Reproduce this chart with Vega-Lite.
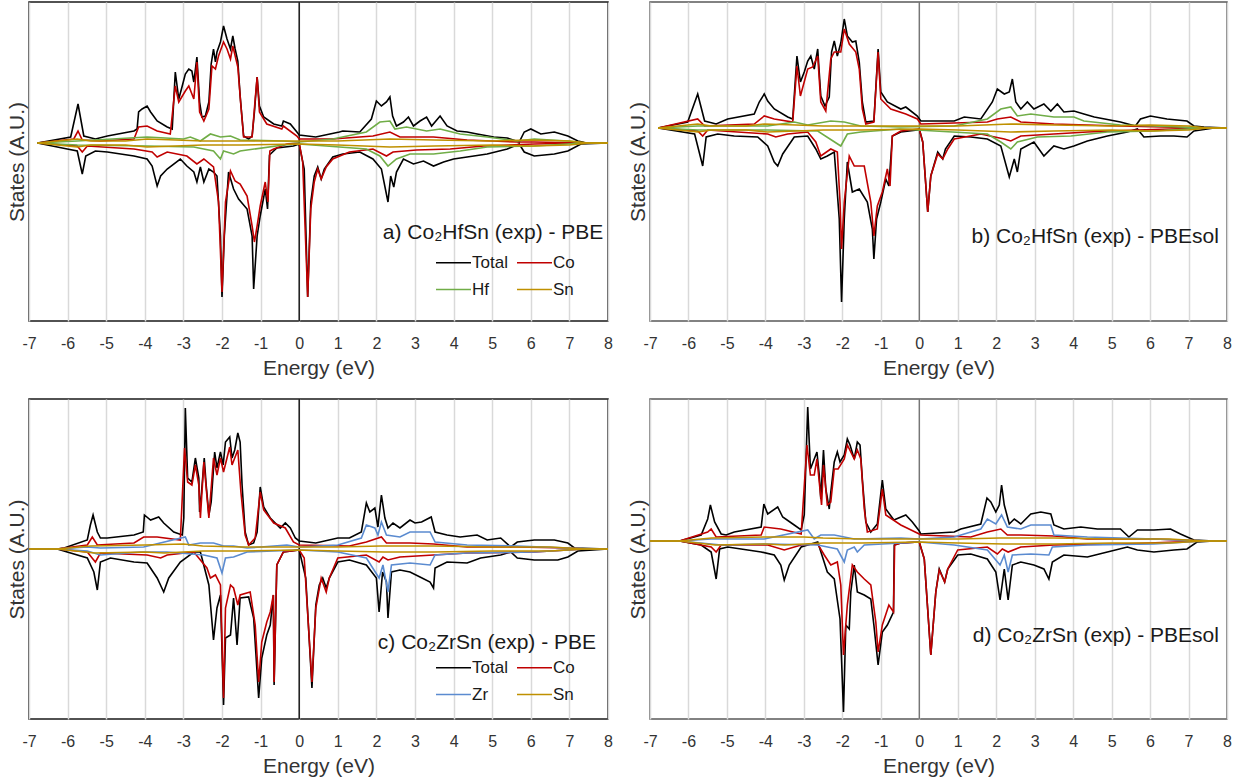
{
"$schema": "https://vega.github.io/schema/vega-lite/v6.json",
"background": "white",
"padding": {"left": 5, "top": 0, "right": 0, "bottom": 0},
"config": {
 "font": "Liberation Sans",
 "view": {"stroke": "#1a1a1a", "strokeWidth": 1.5},
 "axis": {"labelFont": "Liberation Sans", "titleFont": "Liberation Sans", "labelColor": "#333333", "titleColor": "#333333", "titleFontWeight": "normal", "domain": false, "ticks": false, "tickSize": 0},
 "axisX": {"grid": true, "gridColor": "#d9d9d9", "gridWidth": 1.5, "values": [-7,-6,-5,-4,-3,-2,-1,0,1,2,3,4,5,6,7,8], "labelFontSize": 16, "labelPadding": 14, "titleFontSize": 21, "titlePadding": 6, "labelFlush": false, "labelOverlap": false, "labelExpr": "'' + datum.value"},
 "axisY": {"grid": false, "labels": false, "titleFontSize": 21, "titlePadding": 2},
 "legend": {"orient": "none", "direction": "horizontal", "columns": 2, "title": null, "symbolType": "stroke", "symbolSize": 1225, "symbolStrokeWidth": 1.5, "labelFontSize": 17, "labelColor": "#1a1a1a", "labelFont": "Liberation Sans", "labelOffset": 0, "columnPadding": 6, "rowPadding": -11, "padding": 0}
},
"datasets": {
"a": [
{"s":"Total","d":"u","e":-6.78,"v":0},{"s":"Total","d":"u","e":-5.92,"v":6},{"s":"Total","d":"u","e":-5.73,"v":39},{"s":"Total","d":"u","e":-5.58,"v":7},{"s":"Total","d":"u","e":-5.28,"v":4},{"s":"Total","d":"u","e":-4.97,"v":7},{"s":"Total","d":"u","e":-4.28,"v":12},{"s":"Total","d":"u","e":-4.2,"v":14},{"s":"Total","d":"u","e":-4.16,"v":31},{"s":"Total","d":"u","e":-4.07,"v":34},{"s":"Total","d":"u","e":-3.94,"v":37},{"s":"Total","d":"u","e":-3.85,"v":31},{"s":"Total","d":"u","e":-3.68,"v":22},{"s":"Total","d":"u","e":-3.42,"v":16},{"s":"Total","d":"u","e":-3.29,"v":14},{"s":"Total","d":"u","e":-3.21,"v":71},{"s":"Total","d":"u","e":-3.12,"v":44},{"s":"Total","d":"u","e":-3.03,"v":57},{"s":"Total","d":"u","e":-2.95,"v":69},{"s":"Total","d":"u","e":-2.86,"v":74},{"s":"Total","d":"u","e":-2.78,"v":72},{"s":"Total","d":"u","e":-2.73,"v":61},{"s":"Total","d":"u","e":-2.65,"v":86},{"s":"Total","d":"u","e":-2.58,"v":41},{"s":"Total","d":"u","e":-2.52,"v":26},{"s":"Total","d":"u","e":-2.43,"v":27},{"s":"Total","d":"u","e":-2.34,"v":41},{"s":"Total","d":"u","e":-2.28,"v":79},{"s":"Total","d":"u","e":-2.22,"v":94},{"s":"Total","d":"u","e":-2.17,"v":81},{"s":"Total","d":"u","e":-2.13,"v":91},{"s":"Total","d":"u","e":-2.04,"v":101},{"s":"Total","d":"u","e":-1.96,"v":117},{"s":"Total","d":"u","e":-1.87,"v":104},{"s":"Total","d":"u","e":-1.78,"v":94},{"s":"Total","d":"u","e":-1.72,"v":107},{"s":"Total","d":"u","e":-1.66,"v":94},{"s":"Total","d":"u","e":-1.59,"v":82},{"s":"Total","d":"u","e":-1.53,"v":47},{"s":"Total","d":"u","e":-1.44,"v":7},{"s":"Total","d":"u","e":-1.31,"v":4},{"s":"Total","d":"u","e":-1.22,"v":7},{"s":"Total","d":"u","e":-1.16,"v":31},{"s":"Total","d":"u","e":-1.09,"v":66},{"s":"Total","d":"u","e":-1.03,"v":37},{"s":"Total","d":"u","e":-0.92,"v":26},{"s":"Total","d":"u","e":-0.66,"v":19},{"s":"Total","d":"u","e":-0.45,"v":17},{"s":"Total","d":"u","e":-0.41,"v":22},{"s":"Total","d":"u","e":-0.23,"v":19},{"s":"Total","d":"u","e":-0.06,"v":11},{"s":"Total","d":"u","e":0.0,"v":8},{"s":"Total","d":"u","e":0.43,"v":6},{"s":"Total","d":"u","e":1.04,"v":11},{"s":"Total","d":"u","e":1.13,"v":12},{"s":"Total","d":"u","e":1.57,"v":11},{"s":"Total","d":"u","e":1.87,"v":24},{"s":"Total","d":"u","e":2.0,"v":42},{"s":"Total","d":"u","e":2.13,"v":37},{"s":"Total","d":"u","e":2.26,"v":41},{"s":"Total","d":"u","e":2.35,"v":46},{"s":"Total","d":"u","e":2.42,"v":27},{"s":"Total","d":"u","e":2.52,"v":17},{"s":"Total","d":"u","e":2.7,"v":21},{"s":"Total","d":"u","e":2.83,"v":26},{"s":"Total","d":"u","e":2.96,"v":17},{"s":"Total","d":"u","e":3.13,"v":22},{"s":"Total","d":"u","e":3.3,"v":26},{"s":"Total","d":"u","e":3.43,"v":17},{"s":"Total","d":"u","e":3.65,"v":27},{"s":"Total","d":"u","e":3.83,"v":17},{"s":"Total","d":"u","e":4.09,"v":12},{"s":"Total","d":"u","e":4.35,"v":11},{"s":"Total","d":"u","e":4.61,"v":9},{"s":"Total","d":"u","e":5.04,"v":6},{"s":"Total","d":"u","e":5.39,"v":5},{"s":"Total","d":"u","e":5.7,"v":1},{"s":"Total","d":"u","e":5.83,"v":11},{"s":"Total","d":"u","e":6.0,"v":14},{"s":"Total","d":"u","e":6.26,"v":9},{"s":"Total","d":"u","e":6.61,"v":11},{"s":"Total","d":"u","e":6.96,"v":7},{"s":"Total","d":"u","e":7.22,"v":2},{"s":"Total","d":"u","e":7.39,"v":0.5},{"s":"Total","d":"u","e":8.0,"v":0},
{"s":"Total","d":"d","e":-6.78,"v":0},{"s":"Total","d":"d","e":-6.01,"v":-6},{"s":"Total","d":"d","e":-5.75,"v":-8},{"s":"Total","d":"d","e":-5.62,"v":-31},{"s":"Total","d":"d","e":-5.53,"v":-13},{"s":"Total","d":"d","e":-5.28,"v":-8},{"s":"Total","d":"d","e":-4.97,"v":-9},{"s":"Total","d":"d","e":-4.28,"v":-13},{"s":"Total","d":"d","e":-3.94,"v":-16},{"s":"Total","d":"d","e":-3.81,"v":-23},{"s":"Total","d":"d","e":-3.68,"v":-43},{"s":"Total","d":"d","e":-3.59,"v":-33},{"s":"Total","d":"d","e":-3.42,"v":-26},{"s":"Total","d":"d","e":-3.08,"v":-16},{"s":"Total","d":"d","e":-2.91,"v":-23},{"s":"Total","d":"d","e":-2.73,"v":-29},{"s":"Total","d":"d","e":-2.65,"v":-39},{"s":"Total","d":"d","e":-2.56,"v":-24},{"s":"Total","d":"d","e":-2.47,"v":-39},{"s":"Total","d":"d","e":-2.34,"v":-26},{"s":"Total","d":"d","e":-2.22,"v":-29},{"s":"Total","d":"d","e":-2.13,"v":-33},{"s":"Total","d":"d","e":-2.04,"v":-93},{"s":"Total","d":"d","e":-2.0,"v":-154},{"s":"Total","d":"d","e":-1.94,"v":-93},{"s":"Total","d":"d","e":-1.83,"v":-29},{"s":"Total","d":"d","e":-1.7,"v":-46},{"s":"Total","d":"d","e":-1.57,"v":-56},{"s":"Total","d":"d","e":-1.35,"v":-66},{"s":"Total","d":"d","e":-1.22,"v":-93},{"s":"Total","d":"d","e":-1.18,"v":-146},{"s":"Total","d":"d","e":-1.09,"v":-93},{"s":"Total","d":"d","e":-1.01,"v":-73},{"s":"Total","d":"d","e":-0.88,"v":-46},{"s":"Total","d":"d","e":-0.82,"v":-66},{"s":"Total","d":"d","e":-0.77,"v":-12},{"s":"Total","d":"d","e":-0.58,"v":-5},{"s":"Total","d":"d","e":-0.15,"v":-3},{"s":"Total","d":"d","e":0.0,"v":-1},{"s":"Total","d":"d","e":0.13,"v":-26},{"s":"Total","d":"d","e":0.22,"v":-154},{"s":"Total","d":"d","e":0.3,"v":-59},{"s":"Total","d":"d","e":0.39,"v":-33},{"s":"Total","d":"d","e":0.48,"v":-24},{"s":"Total","d":"d","e":0.57,"v":-36},{"s":"Total","d":"d","e":0.65,"v":-26},{"s":"Total","d":"d","e":0.87,"v":-14},{"s":"Total","d":"d","e":1.13,"v":-11},{"s":"Total","d":"d","e":1.57,"v":-9},{"s":"Total","d":"d","e":1.91,"v":-16},{"s":"Total","d":"d","e":2.13,"v":-26},{"s":"Total","d":"d","e":2.3,"v":-59},{"s":"Total","d":"d","e":2.37,"v":-33},{"s":"Total","d":"d","e":2.45,"v":-44},{"s":"Total","d":"d","e":2.52,"v":-29},{"s":"Total","d":"d","e":2.7,"v":-16},{"s":"Total","d":"d","e":2.96,"v":-21},{"s":"Total","d":"d","e":3.22,"v":-18},{"s":"Total","d":"d","e":3.48,"v":-23},{"s":"Total","d":"d","e":3.74,"v":-19},{"s":"Total","d":"d","e":4.0,"v":-16},{"s":"Total","d":"d","e":4.35,"v":-14},{"s":"Total","d":"d","e":4.87,"v":-11},{"s":"Total","d":"d","e":5.39,"v":-6},{"s":"Total","d":"d","e":5.7,"v":-1},{"s":"Total","d":"d","e":5.83,"v":-9},{"s":"Total","d":"d","e":6.09,"v":-13},{"s":"Total","d":"d","e":6.61,"v":-11},{"s":"Total","d":"d","e":6.96,"v":-8},{"s":"Total","d":"d","e":7.3,"v":-1},{"s":"Total","d":"d","e":8.0,"v":0},
{"s":"Co","d":"u","e":-6.78,"v":0},{"s":"Co","d":"u","e":-5.84,"v":4},{"s":"Co","d":"u","e":-5.73,"v":12},{"s":"Co","d":"u","e":-5.62,"v":3},{"s":"Co","d":"u","e":-5.15,"v":2},{"s":"Co","d":"u","e":-4.28,"v":4},{"s":"Co","d":"u","e":-4.16,"v":16},{"s":"Co","d":"u","e":-3.94,"v":17},{"s":"Co","d":"u","e":-3.68,"v":12},{"s":"Co","d":"u","e":-3.34,"v":9},{"s":"Co","d":"u","e":-3.21,"v":57},{"s":"Co","d":"u","e":-3.12,"v":41},{"s":"Co","d":"u","e":-2.95,"v":52},{"s":"Co","d":"u","e":-2.86,"v":57},{"s":"Co","d":"u","e":-2.73,"v":44},{"s":"Co","d":"u","e":-2.65,"v":81},{"s":"Co","d":"u","e":-2.58,"v":31},{"s":"Co","d":"u","e":-2.47,"v":22},{"s":"Co","d":"u","e":-2.34,"v":34},{"s":"Co","d":"u","e":-2.26,"v":77},{"s":"Co","d":"u","e":-2.17,"v":74},{"s":"Co","d":"u","e":-2.09,"v":87},{"s":"Co","d":"u","e":-1.96,"v":101},{"s":"Co","d":"u","e":-1.87,"v":94},{"s":"Co","d":"u","e":-1.78,"v":84},{"s":"Co","d":"u","e":-1.72,"v":97},{"s":"Co","d":"u","e":-1.59,"v":76},{"s":"Co","d":"u","e":-1.51,"v":37},{"s":"Co","d":"u","e":-1.44,"v":6},{"s":"Co","d":"u","e":-1.22,"v":6},{"s":"Co","d":"u","e":-1.14,"v":44},{"s":"Co","d":"u","e":-1.09,"v":66},{"s":"Co","d":"u","e":-1.03,"v":31},{"s":"Co","d":"u","e":-0.84,"v":19},{"s":"Co","d":"u","e":-0.45,"v":14},{"s":"Co","d":"u","e":-0.41,"v":17},{"s":"Co","d":"u","e":-0.06,"v":7},{"s":"Co","d":"u","e":0.0,"v":4},{"s":"Co","d":"u","e":0.87,"v":4},{"s":"Co","d":"u","e":1.91,"v":7},{"s":"Co","d":"u","e":2.35,"v":11},{"s":"Co","d":"u","e":2.61,"v":6},{"s":"Co","d":"u","e":3.48,"v":6},{"s":"Co","d":"u","e":4.35,"v":3},{"s":"Co","d":"u","e":5.65,"v":1},{"s":"Co","d":"u","e":6.09,"v":1},{"s":"Co","d":"u","e":7.39,"v":0},{"s":"Co","d":"u","e":8.0,"v":0},
{"s":"Co","d":"d","e":-6.78,"v":0},{"s":"Co","d":"d","e":-5.75,"v":-3},{"s":"Co","d":"d","e":-5.62,"v":-9},{"s":"Co","d":"d","e":-5.49,"v":-3},{"s":"Co","d":"d","e":-4.28,"v":-6},{"s":"Co","d":"d","e":-3.81,"v":-9},{"s":"Co","d":"d","e":-3.68,"v":-14},{"s":"Co","d":"d","e":-3.42,"v":-9},{"s":"Co","d":"d","e":-2.91,"v":-13},{"s":"Co","d":"d","e":-2.65,"v":-21},{"s":"Co","d":"d","e":-2.47,"v":-16},{"s":"Co","d":"d","e":-2.22,"v":-24},{"s":"Co","d":"d","e":-2.09,"v":-59},{"s":"Co","d":"d","e":-2.0,"v":-149},{"s":"Co","d":"d","e":-1.91,"v":-59},{"s":"Co","d":"d","e":-1.78,"v":-28},{"s":"Co","d":"d","e":-1.66,"v":-38},{"s":"Co","d":"d","e":-1.53,"v":-41},{"s":"Co","d":"d","e":-1.35,"v":-53},{"s":"Co","d":"d","e":-1.22,"v":-83},{"s":"Co","d":"d","e":-1.16,"v":-99},{"s":"Co","d":"d","e":-1.09,"v":-83},{"s":"Co","d":"d","e":-1.01,"v":-63},{"s":"Co","d":"d","e":-0.88,"v":-39},{"s":"Co","d":"d","e":-0.81,"v":-59},{"s":"Co","d":"d","e":-0.76,"v":-8},{"s":"Co","d":"d","e":-0.66,"v":-6},{"s":"Co","d":"d","e":-0.32,"v":-1},{"s":"Co","d":"d","e":0.0,"v":0},{"s":"Co","d":"d","e":0.09,"v":-19},{"s":"Co","d":"d","e":0.22,"v":-154},{"s":"Co","d":"d","e":0.3,"v":-66},{"s":"Co","d":"d","e":0.39,"v":-39},{"s":"Co","d":"d","e":0.48,"v":-26},{"s":"Co","d":"d","e":0.57,"v":-36},{"s":"Co","d":"d","e":0.7,"v":-24},{"s":"Co","d":"d","e":0.87,"v":-16},{"s":"Co","d":"d","e":1.3,"v":-9},{"s":"Co","d":"d","e":1.91,"v":-6},{"s":"Co","d":"d","e":2.26,"v":-13},{"s":"Co","d":"d","e":2.43,"v":-9},{"s":"Co","d":"d","e":3.04,"v":-7},{"s":"Co","d":"d","e":3.91,"v":-6},{"s":"Co","d":"d","e":4.78,"v":-3},{"s":"Co","d":"d","e":6.09,"v":-1},{"s":"Co","d":"d","e":7.39,"v":0},{"s":"Co","d":"d","e":8.0,"v":0},
{"s":"Hf","d":"u","e":-6.78,"v":0},{"s":"Hf","d":"u","e":-5.75,"v":2},{"s":"Hf","d":"u","e":-3.94,"v":6},{"s":"Hf","d":"u","e":-3.0,"v":4},{"s":"Hf","d":"u","e":-2.82,"v":6},{"s":"Hf","d":"u","e":-2.56,"v":2},{"s":"Hf","d":"u","e":-2.3,"v":9},{"s":"Hf","d":"u","e":-2.04,"v":6},{"s":"Hf","d":"u","e":-1.78,"v":7},{"s":"Hf","d":"u","e":-1.53,"v":3},{"s":"Hf","d":"u","e":-0.41,"v":2},{"s":"Hf","d":"u","e":0.0,"v":1},{"s":"Hf","d":"u","e":0.87,"v":4},{"s":"Hf","d":"u","e":1.74,"v":11},{"s":"Hf","d":"u","e":2.09,"v":21},{"s":"Hf","d":"u","e":2.35,"v":22},{"s":"Hf","d":"u","e":2.48,"v":14},{"s":"Hf","d":"u","e":2.78,"v":16},{"s":"Hf","d":"u","e":3.3,"v":12},{"s":"Hf","d":"u","e":3.65,"v":14},{"s":"Hf","d":"u","e":4.17,"v":9},{"s":"Hf","d":"u","e":4.87,"v":6},{"s":"Hf","d":"u","e":5.65,"v":2},{"s":"Hf","d":"u","e":6.09,"v":4},{"s":"Hf","d":"u","e":6.96,"v":2},{"s":"Hf","d":"u","e":7.39,"v":0},{"s":"Hf","d":"u","e":8.0,"v":0},
{"s":"Hf","d":"d","e":-6.78,"v":0},{"s":"Hf","d":"d","e":-5.75,"v":-2},{"s":"Hf","d":"d","e":-3.94,"v":-3},{"s":"Hf","d":"d","e":-2.73,"v":-4},{"s":"Hf","d":"d","e":-2.22,"v":-8},{"s":"Hf","d":"d","e":-2.04,"v":-16},{"s":"Hf","d":"d","e":-1.96,"v":-8},{"s":"Hf","d":"d","e":-1.7,"v":-11},{"s":"Hf","d":"d","e":-1.53,"v":-8},{"s":"Hf","d":"d","e":-0.41,"v":-2},{"s":"Hf","d":"d","e":0.0,"v":-1},{"s":"Hf","d":"d","e":1.74,"v":-6},{"s":"Hf","d":"d","e":2.09,"v":-13},{"s":"Hf","d":"d","e":2.3,"v":-23},{"s":"Hf","d":"d","e":2.52,"v":-16},{"s":"Hf","d":"d","e":2.87,"v":-11},{"s":"Hf","d":"d","e":3.48,"v":-11},{"s":"Hf","d":"d","e":4.17,"v":-8},{"s":"Hf","d":"d","e":4.87,"v":-4},{"s":"Hf","d":"d","e":6.09,"v":-3},{"s":"Hf","d":"d","e":7.39,"v":0},{"s":"Hf","d":"d","e":8.0,"v":0},
{"s":"Sn","d":"u","e":-6.78,"v":0},{"s":"Sn","d":"u","e":-5.75,"v":4},{"s":"Sn","d":"u","e":-5.4,"v":2},{"s":"Sn","d":"u","e":-4.5,"v":2},{"s":"Sn","d":"u","e":-3.94,"v":4},{"s":"Sn","d":"u","e":-3.2,"v":3},{"s":"Sn","d":"u","e":-2.5,"v":2},{"s":"Sn","d":"u","e":-1.5,"v":2},{"s":"Sn","d":"u","e":0.0,"v":2},{"s":"Sn","d":"u","e":1.0,"v":2},{"s":"Sn","d":"u","e":2.35,"v":4},{"s":"Sn","d":"u","e":3.5,"v":3},{"s":"Sn","d":"u","e":5.0,"v":2},{"s":"Sn","d":"u","e":6.0,"v":3},{"s":"Sn","d":"u","e":7.0,"v":2},{"s":"Sn","d":"u","e":7.5,"v":0},{"s":"Sn","d":"u","e":8.0,"v":0},
{"s":"Sn","d":"d","e":-6.78,"v":0},{"s":"Sn","d":"d","e":-5.75,"v":-4},{"s":"Sn","d":"d","e":-5.4,"v":-2},{"s":"Sn","d":"d","e":-4.5,"v":-2},{"s":"Sn","d":"d","e":-3.94,"v":-4},{"s":"Sn","d":"d","e":-3.2,"v":-3},{"s":"Sn","d":"d","e":-2.5,"v":-2},{"s":"Sn","d":"d","e":-1.5,"v":-2},{"s":"Sn","d":"d","e":0.0,"v":-1},{"s":"Sn","d":"d","e":1.0,"v":-2},{"s":"Sn","d":"d","e":2.35,"v":-4},{"s":"Sn","d":"d","e":3.5,"v":-3},{"s":"Sn","d":"d","e":5.0,"v":-2},{"s":"Sn","d":"d","e":6.0,"v":-3},{"s":"Sn","d":"d","e":7.0,"v":-2},{"s":"Sn","d":"d","e":7.5,"v":0},{"s":"Sn","d":"d","e":8.0,"v":0}
],
"b": [
{"s":"Total","d":"u","e":-6.79,"v":0},{"s":"Total","d":"u","e":-6.02,"v":6},{"s":"Total","d":"u","e":-5.76,"v":34},{"s":"Total","d":"u","e":-5.58,"v":7},{"s":"Total","d":"u","e":-5.28,"v":4},{"s":"Total","d":"u","e":-4.98,"v":9},{"s":"Total","d":"u","e":-4.29,"v":14},{"s":"Total","d":"u","e":-4.16,"v":26},{"s":"Total","d":"u","e":-4.03,"v":34},{"s":"Total","d":"u","e":-3.94,"v":27},{"s":"Total","d":"u","e":-3.77,"v":19},{"s":"Total","d":"u","e":-3.42,"v":11},{"s":"Total","d":"u","e":-3.29,"v":9},{"s":"Total","d":"u","e":-3.18,"v":72},{"s":"Total","d":"u","e":-3.09,"v":46},{"s":"Total","d":"u","e":-2.99,"v":56},{"s":"Total","d":"u","e":-2.9,"v":67},{"s":"Total","d":"u","e":-2.82,"v":72},{"s":"Total","d":"u","e":-2.73,"v":59},{"s":"Total","d":"u","e":-2.64,"v":79},{"s":"Total","d":"u","e":-2.56,"v":32},{"s":"Total","d":"u","e":-2.45,"v":22},{"s":"Total","d":"u","e":-2.34,"v":31},{"s":"Total","d":"u","e":-2.28,"v":76},{"s":"Total","d":"u","e":-2.21,"v":87},{"s":"Total","d":"u","e":-2.13,"v":72},{"s":"Total","d":"u","e":-2.04,"v":85},{"s":"Total","d":"u","e":-1.95,"v":109},{"s":"Total","d":"u","e":-1.87,"v":92},{"s":"Total","d":"u","e":-1.74,"v":86},{"s":"Total","d":"u","e":-1.65,"v":87},{"s":"Total","d":"u","e":-1.56,"v":66},{"s":"Total","d":"u","e":-1.48,"v":26},{"s":"Total","d":"u","e":-1.39,"v":6},{"s":"Total","d":"u","e":-1.18,"v":7},{"s":"Total","d":"u","e":-1.07,"v":79},{"s":"Total","d":"u","e":-1.0,"v":36},{"s":"Total","d":"u","e":-0.83,"v":26},{"s":"Total","d":"u","e":-0.48,"v":19},{"s":"Total","d":"u","e":-0.35,"v":21},{"s":"Total","d":"u","e":-0.05,"v":12},{"s":"Total","d":"u","e":0.04,"v":7},{"s":"Total","d":"u","e":0.91,"v":7},{"s":"Total","d":"u","e":1.17,"v":11},{"s":"Total","d":"u","e":1.6,"v":9},{"s":"Total","d":"u","e":1.9,"v":26},{"s":"Total","d":"u","e":2.03,"v":39},{"s":"Total","d":"u","e":2.21,"v":34},{"s":"Total","d":"u","e":2.34,"v":36},{"s":"Total","d":"u","e":2.42,"v":49},{"s":"Total","d":"u","e":2.51,"v":26},{"s":"Total","d":"u","e":2.64,"v":19},{"s":"Total","d":"u","e":2.81,"v":26},{"s":"Total","d":"u","e":2.98,"v":19},{"s":"Total","d":"u","e":3.24,"v":24},{"s":"Total","d":"u","e":3.42,"v":17},{"s":"Total","d":"u","e":3.59,"v":24},{"s":"Total","d":"u","e":3.76,"v":16},{"s":"Total","d":"u","e":4.02,"v":17},{"s":"Total","d":"u","e":4.28,"v":14},{"s":"Total","d":"u","e":4.55,"v":11},{"s":"Total","d":"u","e":5.23,"v":6},{"s":"Total","d":"u","e":5.62,"v":2},{"s":"Total","d":"u","e":5.75,"v":9},{"s":"Total","d":"u","e":6.01,"v":12},{"s":"Total","d":"u","e":6.44,"v":9},{"s":"Total","d":"u","e":6.96,"v":7},{"s":"Total","d":"u","e":7.14,"v":2},{"s":"Total","d":"u","e":7.4,"v":1},{"s":"Total","d":"u","e":8.0,"v":0},
{"s":"Total","d":"d","e":-6.79,"v":0},{"s":"Total","d":"d","e":-5.84,"v":-6},{"s":"Total","d":"d","e":-5.63,"v":-38},{"s":"Total","d":"d","e":-5.54,"v":-9},{"s":"Total","d":"d","e":-5.24,"v":-6},{"s":"Total","d":"d","e":-4.81,"v":-8},{"s":"Total","d":"d","e":-4.2,"v":-9},{"s":"Total","d":"d","e":-3.94,"v":-18},{"s":"Total","d":"d","e":-3.77,"v":-34},{"s":"Total","d":"d","e":-3.68,"v":-38},{"s":"Total","d":"d","e":-3.55,"v":-26},{"s":"Total","d":"d","e":-3.25,"v":-9},{"s":"Total","d":"d","e":-2.9,"v":-8},{"s":"Total","d":"d","e":-2.69,"v":-21},{"s":"Total","d":"d","e":-2.56,"v":-31},{"s":"Total","d":"d","e":-2.39,"v":-28},{"s":"Total","d":"d","e":-2.21,"v":-24},{"s":"Total","d":"d","e":-2.08,"v":-91},{"s":"Total","d":"d","e":-2.02,"v":-174},{"s":"Total","d":"d","e":-1.95,"v":-91},{"s":"Total","d":"d","e":-1.87,"v":-34},{"s":"Total","d":"d","e":-1.74,"v":-64},{"s":"Total","d":"d","e":-1.56,"v":-61},{"s":"Total","d":"d","e":-1.35,"v":-74},{"s":"Total","d":"d","e":-1.22,"v":-101},{"s":"Total","d":"d","e":-1.18,"v":-131},{"s":"Total","d":"d","e":-1.11,"v":-91},{"s":"Total","d":"d","e":-1.0,"v":-74},{"s":"Total","d":"d","e":-0.87,"v":-51},{"s":"Total","d":"d","e":-0.79,"v":-58},{"s":"Total","d":"d","e":-0.7,"v":-8},{"s":"Total","d":"d","e":-0.48,"v":-4},{"s":"Total","d":"d","e":-0.05,"v":-2},{"s":"Total","d":"d","e":0.0,"v":-1},{"s":"Total","d":"d","e":0.09,"v":-14},{"s":"Total","d":"d","e":0.22,"v":-84},{"s":"Total","d":"d","e":0.3,"v":-48},{"s":"Total","d":"d","e":0.48,"v":-24},{"s":"Total","d":"d","e":0.61,"v":-31},{"s":"Total","d":"d","e":0.68,"v":-21},{"s":"Total","d":"d","e":0.91,"v":-8},{"s":"Total","d":"d","e":1.34,"v":-9},{"s":"Total","d":"d","e":1.77,"v":-11},{"s":"Total","d":"d","e":2.12,"v":-18},{"s":"Total","d":"d","e":2.34,"v":-49},{"s":"Total","d":"d","e":2.47,"v":-31},{"s":"Total","d":"d","e":2.55,"v":-44},{"s":"Total","d":"d","e":2.64,"v":-21},{"s":"Total","d":"d","e":2.98,"v":-14},{"s":"Total","d":"d","e":3.24,"v":-28},{"s":"Total","d":"d","e":3.5,"v":-18},{"s":"Total","d":"d","e":3.76,"v":-21},{"s":"Total","d":"d","e":4.02,"v":-18},{"s":"Total","d":"d","e":4.37,"v":-13},{"s":"Total","d":"d","e":4.89,"v":-8},{"s":"Total","d":"d","e":5.41,"v":-4},{"s":"Total","d":"d","e":5.67,"v":-1},{"s":"Total","d":"d","e":5.84,"v":-9},{"s":"Total","d":"d","e":6.27,"v":-8},{"s":"Total","d":"d","e":6.62,"v":-8},{"s":"Total","d":"d","e":6.96,"v":-9},{"s":"Total","d":"d","e":7.14,"v":-3},{"s":"Total","d":"d","e":7.66,"v":0},{"s":"Total","d":"d","e":8.0,"v":0},
{"s":"Co","d":"u","e":-6.79,"v":0},{"s":"Co","d":"u","e":-5.76,"v":9},{"s":"Co","d":"u","e":-5.58,"v":2},{"s":"Co","d":"u","e":-4.29,"v":4},{"s":"Co","d":"u","e":-4.03,"v":12},{"s":"Co","d":"u","e":-3.77,"v":9},{"s":"Co","d":"u","e":-3.29,"v":6},{"s":"Co","d":"u","e":-3.18,"v":62},{"s":"Co","d":"u","e":-3.09,"v":32},{"s":"Co","d":"u","e":-2.9,"v":59},{"s":"Co","d":"u","e":-2.77,"v":61},{"s":"Co","d":"u","e":-2.64,"v":72},{"s":"Co","d":"u","e":-2.56,"v":26},{"s":"Co","d":"u","e":-2.43,"v":17},{"s":"Co","d":"u","e":-2.3,"v":69},{"s":"Co","d":"u","e":-2.21,"v":76},{"s":"Co","d":"u","e":-2.04,"v":76},{"s":"Co","d":"u","e":-1.95,"v":99},{"s":"Co","d":"u","e":-1.82,"v":84},{"s":"Co","d":"u","e":-1.65,"v":76},{"s":"Co","d":"u","e":-1.56,"v":59},{"s":"Co","d":"u","e":-1.48,"v":19},{"s":"Co","d":"u","e":-1.39,"v":4},{"s":"Co","d":"u","e":-1.18,"v":6},{"s":"Co","d":"u","e":-1.07,"v":76},{"s":"Co","d":"u","e":-1.0,"v":29},{"s":"Co","d":"u","e":-0.74,"v":19},{"s":"Co","d":"u","e":-0.35,"v":14},{"s":"Co","d":"u","e":-0.05,"v":9},{"s":"Co","d":"u","e":0.04,"v":4},{"s":"Co","d":"u","e":1.77,"v":6},{"s":"Co","d":"u","e":2.03,"v":9},{"s":"Co","d":"u","e":2.38,"v":11},{"s":"Co","d":"u","e":2.64,"v":6},{"s":"Co","d":"u","e":3.5,"v":4},{"s":"Co","d":"u","e":5.23,"v":2},{"s":"Co","d":"u","e":7.4,"v":0},{"s":"Co","d":"u","e":8.0,"v":0},
{"s":"Co","d":"d","e":-6.79,"v":0},{"s":"Co","d":"d","e":-5.76,"v":-3},{"s":"Co","d":"d","e":-5.63,"v":-8},{"s":"Co","d":"d","e":-5.5,"v":-2},{"s":"Co","d":"d","e":-3.94,"v":-6},{"s":"Co","d":"d","e":-3.73,"v":-9},{"s":"Co","d":"d","e":-3.42,"v":-6},{"s":"Co","d":"d","e":-2.9,"v":-4},{"s":"Co","d":"d","e":-2.69,"v":-14},{"s":"Co","d":"d","e":-2.56,"v":-28},{"s":"Co","d":"d","e":-2.3,"v":-21},{"s":"Co","d":"d","e":-2.13,"v":-24},{"s":"Co","d":"d","e":-2.06,"v":-74},{"s":"Co","d":"d","e":-2.02,"v":-121},{"s":"Co","d":"d","e":-1.95,"v":-74},{"s":"Co","d":"d","e":-1.82,"v":-28},{"s":"Co","d":"d","e":-1.69,"v":-38},{"s":"Co","d":"d","e":-1.43,"v":-38},{"s":"Co","d":"d","e":-1.26,"v":-74},{"s":"Co","d":"d","e":-1.18,"v":-108},{"s":"Co","d":"d","e":-1.09,"v":-78},{"s":"Co","d":"d","e":-0.96,"v":-64},{"s":"Co","d":"d","e":-0.83,"v":-41},{"s":"Co","d":"d","e":-0.76,"v":-58},{"s":"Co","d":"d","e":-0.7,"v":-8},{"s":"Co","d":"d","e":-0.48,"v":-3},{"s":"Co","d":"d","e":0.0,"v":-1},{"s":"Co","d":"d","e":0.09,"v":-14},{"s":"Co","d":"d","e":0.22,"v":-84},{"s":"Co","d":"d","e":0.3,"v":-48},{"s":"Co","d":"d","e":0.48,"v":-26},{"s":"Co","d":"d","e":0.61,"v":-31},{"s":"Co","d":"d","e":0.74,"v":-21},{"s":"Co","d":"d","e":0.91,"v":-11},{"s":"Co","d":"d","e":1.6,"v":-6},{"s":"Co","d":"d","e":2.21,"v":-11},{"s":"Co","d":"d","e":2.38,"v":-13},{"s":"Co","d":"d","e":2.64,"v":-8},{"s":"Co","d":"d","e":3.5,"v":-6},{"s":"Co","d":"d","e":4.37,"v":-4},{"s":"Co","d":"d","e":5.67,"v":-2},{"s":"Co","d":"d","e":7.4,"v":0},{"s":"Co","d":"d","e":8.0,"v":0},
{"s":"Hf","d":"u","e":-6.79,"v":0},{"s":"Hf","d":"u","e":-5.76,"v":2},{"s":"Hf","d":"u","e":-3.94,"v":2},{"s":"Hf","d":"u","e":-3.25,"v":6},{"s":"Hf","d":"u","e":-2.9,"v":3},{"s":"Hf","d":"u","e":-2.3,"v":7},{"s":"Hf","d":"u","e":-1.95,"v":6},{"s":"Hf","d":"u","e":-1.52,"v":2},{"s":"Hf","d":"u","e":-0.5,"v":1},{"s":"Hf","d":"u","e":0.91,"v":2},{"s":"Hf","d":"u","e":1.77,"v":9},{"s":"Hf","d":"u","e":2.12,"v":19},{"s":"Hf","d":"u","e":2.38,"v":21},{"s":"Hf","d":"u","e":2.55,"v":12},{"s":"Hf","d":"u","e":2.9,"v":14},{"s":"Hf","d":"u","e":3.5,"v":11},{"s":"Hf","d":"u","e":4.02,"v":11},{"s":"Hf","d":"u","e":4.28,"v":7},{"s":"Hf","d":"u","e":5.23,"v":3},{"s":"Hf","d":"u","e":6.1,"v":2},{"s":"Hf","d":"u","e":7.4,"v":0},{"s":"Hf","d":"u","e":8.0,"v":0},
{"s":"Hf","d":"d","e":-6.79,"v":0},{"s":"Hf","d":"d","e":-5.76,"v":-2},{"s":"Hf","d":"d","e":-3.94,"v":-2},{"s":"Hf","d":"d","e":-2.64,"v":-3},{"s":"Hf","d":"d","e":-2.04,"v":-18},{"s":"Hf","d":"d","e":-1.87,"v":-6},{"s":"Hf","d":"d","e":-1.52,"v":-4},{"s":"Hf","d":"d","e":-0.5,"v":-1},{"s":"Hf","d":"d","e":1.77,"v":-6},{"s":"Hf","d":"d","e":2.12,"v":-14},{"s":"Hf","d":"d","e":2.38,"v":-21},{"s":"Hf","d":"d","e":2.55,"v":-14},{"s":"Hf","d":"d","e":3.07,"v":-9},{"s":"Hf","d":"d","e":3.94,"v":-8},{"s":"Hf","d":"d","e":4.89,"v":-4},{"s":"Hf","d":"d","e":6.1,"v":-3},{"s":"Hf","d":"d","e":7.4,"v":0},{"s":"Hf","d":"d","e":8.0,"v":0},
{"s":"Sn","d":"u","e":-6.79,"v":0},{"s":"Sn","d":"u","e":-5.76,"v":4},{"s":"Sn","d":"u","e":-5.4,"v":2},{"s":"Sn","d":"u","e":-4.5,"v":2},{"s":"Sn","d":"u","e":-4.03,"v":4},{"s":"Sn","d":"u","e":-3.2,"v":3},{"s":"Sn","d":"u","e":-2.5,"v":2},{"s":"Sn","d":"u","e":-1.5,"v":2},{"s":"Sn","d":"u","e":0.0,"v":2},{"s":"Sn","d":"u","e":1.0,"v":2},{"s":"Sn","d":"u","e":2.38,"v":4},{"s":"Sn","d":"u","e":3.5,"v":3},{"s":"Sn","d":"u","e":5.0,"v":2},{"s":"Sn","d":"u","e":6.0,"v":3},{"s":"Sn","d":"u","e":7.0,"v":2},{"s":"Sn","d":"u","e":7.5,"v":0},{"s":"Sn","d":"u","e":8.0,"v":0},
{"s":"Sn","d":"d","e":-6.79,"v":0},{"s":"Sn","d":"d","e":-5.76,"v":-4},{"s":"Sn","d":"d","e":-5.4,"v":-2},{"s":"Sn","d":"d","e":-4.5,"v":-2},{"s":"Sn","d":"d","e":-3.94,"v":-4},{"s":"Sn","d":"d","e":-3.2,"v":-3},{"s":"Sn","d":"d","e":-2.5,"v":-2},{"s":"Sn","d":"d","e":-1.5,"v":-2},{"s":"Sn","d":"d","e":0.0,"v":-1},{"s":"Sn","d":"d","e":1.0,"v":-2},{"s":"Sn","d":"d","e":2.38,"v":-4},{"s":"Sn","d":"d","e":3.5,"v":-3},{"s":"Sn","d":"d","e":5.0,"v":-2},{"s":"Sn","d":"d","e":6.0,"v":-3},{"s":"Sn","d":"d","e":7.0,"v":-2},{"s":"Sn","d":"d","e":7.5,"v":0},{"s":"Sn","d":"d","e":8.0,"v":0}
],
"c": [
{"s":"Total","d":"u","e":-7.0,"v":0},{"s":"Total","d":"u","e":-6.27,"v":0},{"s":"Total","d":"u","e":-6.09,"v":1},{"s":"Total","d":"u","e":-5.49,"v":9},{"s":"Total","d":"u","e":-5.41,"v":24},{"s":"Total","d":"u","e":-5.34,"v":34},{"s":"Total","d":"u","e":-5.23,"v":17},{"s":"Total","d":"u","e":-5.15,"v":11},{"s":"Total","d":"u","e":-4.97,"v":11},{"s":"Total","d":"u","e":-4.28,"v":14},{"s":"Total","d":"u","e":-4.04,"v":17},{"s":"Total","d":"u","e":-4.01,"v":34},{"s":"Total","d":"u","e":-3.85,"v":29},{"s":"Total","d":"u","e":-3.64,"v":32},{"s":"Total","d":"u","e":-3.51,"v":26},{"s":"Total","d":"u","e":-3.25,"v":17},{"s":"Total","d":"u","e":-3.03,"v":14},{"s":"Total","d":"u","e":-2.99,"v":31},{"s":"Total","d":"u","e":-2.95,"v":141},{"s":"Total","d":"u","e":-2.89,"v":71},{"s":"Total","d":"u","e":-2.78,"v":67},{"s":"Total","d":"u","e":-2.69,"v":91},{"s":"Total","d":"u","e":-2.6,"v":71},{"s":"Total","d":"u","e":-2.58,"v":37},{"s":"Total","d":"u","e":-2.53,"v":57},{"s":"Total","d":"u","e":-2.46,"v":91},{"s":"Total","d":"u","e":-2.41,"v":64},{"s":"Total","d":"u","e":-2.34,"v":34},{"s":"Total","d":"u","e":-2.28,"v":47},{"s":"Total","d":"u","e":-2.19,"v":97},{"s":"Total","d":"u","e":-2.13,"v":81},{"s":"Total","d":"u","e":-2.04,"v":97},{"s":"Total","d":"u","e":-1.97,"v":84},{"s":"Total","d":"u","e":-1.91,"v":107},{"s":"Total","d":"u","e":-1.8,"v":112},{"s":"Total","d":"u","e":-1.74,"v":91},{"s":"Total","d":"u","e":-1.67,"v":99},{"s":"Total","d":"u","e":-1.59,"v":116},{"s":"Total","d":"u","e":-1.53,"v":107},{"s":"Total","d":"u","e":-1.48,"v":64},{"s":"Total","d":"u","e":-1.4,"v":17},{"s":"Total","d":"u","e":-1.31,"v":4},{"s":"Total","d":"u","e":-1.18,"v":6},{"s":"Total","d":"u","e":-1.09,"v":17},{"s":"Total","d":"u","e":-1.01,"v":62},{"s":"Total","d":"u","e":-0.92,"v":42},{"s":"Total","d":"u","e":-0.75,"v":31},{"s":"Total","d":"u","e":-0.49,"v":21},{"s":"Total","d":"u","e":-0.36,"v":26},{"s":"Total","d":"u","e":-0.23,"v":21},{"s":"Total","d":"u","e":-0.1,"v":11},{"s":"Total","d":"u","e":0.0,"v":8},{"s":"Total","d":"u","e":0.43,"v":6},{"s":"Total","d":"u","e":1.0,"v":11},{"s":"Total","d":"u","e":1.3,"v":11},{"s":"Total","d":"u","e":1.61,"v":17},{"s":"Total","d":"u","e":1.74,"v":46},{"s":"Total","d":"u","e":1.83,"v":37},{"s":"Total","d":"u","e":1.96,"v":41},{"s":"Total","d":"u","e":2.04,"v":22},{"s":"Total","d":"u","e":2.13,"v":54},{"s":"Total","d":"u","e":2.22,"v":31},{"s":"Total","d":"u","e":2.3,"v":21},{"s":"Total","d":"u","e":2.43,"v":26},{"s":"Total","d":"u","e":2.61,"v":21},{"s":"Total","d":"u","e":2.87,"v":29},{"s":"Total","d":"u","e":3.0,"v":26},{"s":"Total","d":"u","e":3.17,"v":27},{"s":"Total","d":"u","e":3.42,"v":32},{"s":"Total","d":"u","e":3.52,"v":17},{"s":"Total","d":"u","e":3.83,"v":14},{"s":"Total","d":"u","e":4.17,"v":12},{"s":"Total","d":"u","e":4.61,"v":14},{"s":"Total","d":"u","e":4.87,"v":9},{"s":"Total","d":"u","e":5.22,"v":11},{"s":"Total","d":"u","e":5.48,"v":2},{"s":"Total","d":"u","e":5.65,"v":7},{"s":"Total","d":"u","e":6.09,"v":9},{"s":"Total","d":"u","e":6.61,"v":9},{"s":"Total","d":"u","e":6.96,"v":6},{"s":"Total","d":"u","e":7.13,"v":1},{"s":"Total","d":"u","e":8.0,"v":0},
{"s":"Total","d":"d","e":-7.0,"v":0},{"s":"Total","d":"d","e":-6.27,"v":0},{"s":"Total","d":"d","e":-5.49,"v":-9},{"s":"Total","d":"d","e":-5.32,"v":-23},{"s":"Total","d":"d","e":-5.23,"v":-41},{"s":"Total","d":"d","e":-5.15,"v":-13},{"s":"Total","d":"d","e":-4.89,"v":-9},{"s":"Total","d":"d","e":-4.28,"v":-13},{"s":"Total","d":"d","e":-3.94,"v":-14},{"s":"Total","d":"d","e":-3.68,"v":-29},{"s":"Total","d":"d","e":-3.51,"v":-43},{"s":"Total","d":"d","e":-3.38,"v":-29},{"s":"Total","d":"d","e":-3.08,"v":-13},{"s":"Total","d":"d","e":-2.73,"v":-3},{"s":"Total","d":"d","e":-2.56,"v":-3},{"s":"Total","d":"d","e":-2.34,"v":-36},{"s":"Total","d":"d","e":-2.22,"v":-91},{"s":"Total","d":"d","e":-2.13,"v":-59},{"s":"Total","d":"d","e":-2.04,"v":-46},{"s":"Total","d":"d","e":-1.96,"v":-156},{"s":"Total","d":"d","e":-1.91,"v":-89},{"s":"Total","d":"d","e":-1.78,"v":-86},{"s":"Total","d":"d","e":-1.7,"v":-49},{"s":"Total","d":"d","e":-1.61,"v":-96},{"s":"Total","d":"d","e":-1.53,"v":-49},{"s":"Total","d":"d","e":-1.31,"v":-48},{"s":"Total","d":"d","e":-1.18,"v":-69},{"s":"Total","d":"d","e":-1.05,"v":-149},{"s":"Total","d":"d","e":-0.97,"v":-109},{"s":"Total","d":"d","e":-0.84,"v":-86},{"s":"Total","d":"d","e":-0.75,"v":-76},{"s":"Total","d":"d","e":-0.67,"v":-46},{"s":"Total","d":"d","e":-0.65,"v":-136},{"s":"Total","d":"d","e":-0.58,"v":-16},{"s":"Total","d":"d","e":-0.41,"v":-3},{"s":"Total","d":"d","e":0.0,"v":-1},{"s":"Total","d":"d","e":0.17,"v":-29},{"s":"Total","d":"d","e":0.33,"v":-139},{"s":"Total","d":"d","e":0.43,"v":-56},{"s":"Total","d":"d","e":0.52,"v":-36},{"s":"Total","d":"d","e":0.61,"v":-29},{"s":"Total","d":"d","e":0.7,"v":-39},{"s":"Total","d":"d","e":0.78,"v":-29},{"s":"Total","d":"d","e":1.0,"v":-13},{"s":"Total","d":"d","e":1.3,"v":-11},{"s":"Total","d":"d","e":1.74,"v":-16},{"s":"Total","d":"d","e":2.0,"v":-29},{"s":"Total","d":"d","e":2.07,"v":-63},{"s":"Total","d":"d","e":2.16,"v":-23},{"s":"Total","d":"d","e":2.26,"v":-33},{"s":"Total","d":"d","e":2.3,"v":-69},{"s":"Total","d":"d","e":2.39,"v":-23},{"s":"Total","d":"d","e":2.61,"v":-21},{"s":"Total","d":"d","e":2.87,"v":-23},{"s":"Total","d":"d","e":3.13,"v":-28},{"s":"Total","d":"d","e":3.39,"v":-33},{"s":"Total","d":"d","e":3.48,"v":-39},{"s":"Total","d":"d","e":3.52,"v":-19},{"s":"Total","d":"d","e":3.83,"v":-13},{"s":"Total","d":"d","e":4.35,"v":-14},{"s":"Total","d":"d","e":4.7,"v":-9},{"s":"Total","d":"d","e":5.22,"v":-6},{"s":"Total","d":"d","e":5.48,"v":-3},{"s":"Total","d":"d","e":5.65,"v":-9},{"s":"Total","d":"d","e":6.09,"v":-11},{"s":"Total","d":"d","e":6.7,"v":-11},{"s":"Total","d":"d","e":6.96,"v":-8},{"s":"Total","d":"d","e":7.22,"v":-2},{"s":"Total","d":"d","e":8.0,"v":0},
{"s":"Co","d":"u","e":-7.0,"v":0},{"s":"Co","d":"u","e":-6.27,"v":0},{"s":"Co","d":"u","e":-5.49,"v":4},{"s":"Co","d":"u","e":-5.36,"v":12},{"s":"Co","d":"u","e":-5.23,"v":4},{"s":"Co","d":"u","e":-4.28,"v":6},{"s":"Co","d":"u","e":-4.03,"v":12},{"s":"Co","d":"u","e":-3.68,"v":12},{"s":"Co","d":"u","e":-3.08,"v":9},{"s":"Co","d":"u","e":-2.97,"v":101},{"s":"Co","d":"u","e":-2.89,"v":67},{"s":"Co","d":"u","e":-2.78,"v":64},{"s":"Co","d":"u","e":-2.69,"v":84},{"s":"Co","d":"u","e":-2.6,"v":64},{"s":"Co","d":"u","e":-2.56,"v":31},{"s":"Co","d":"u","e":-2.47,"v":87},{"s":"Co","d":"u","e":-2.34,"v":31},{"s":"Co","d":"u","e":-2.22,"v":91},{"s":"Co","d":"u","e":-2.13,"v":74},{"s":"Co","d":"u","e":-2.04,"v":91},{"s":"Co","d":"u","e":-1.96,"v":77},{"s":"Co","d":"u","e":-1.8,"v":102},{"s":"Co","d":"u","e":-1.74,"v":84},{"s":"Co","d":"u","e":-1.59,"v":99},{"s":"Co","d":"u","e":-1.51,"v":57},{"s":"Co","d":"u","e":-1.4,"v":14},{"s":"Co","d":"u","e":-1.31,"v":4},{"s":"Co","d":"u","e":-1.14,"v":11},{"s":"Co","d":"u","e":-1.01,"v":57},{"s":"Co","d":"u","e":-0.92,"v":39},{"s":"Co","d":"u","e":-0.66,"v":26},{"s":"Co","d":"u","e":-0.36,"v":21},{"s":"Co","d":"u","e":-0.15,"v":7},{"s":"Co","d":"u","e":0.0,"v":4},{"s":"Co","d":"u","e":1.3,"v":3},{"s":"Co","d":"u","e":1.74,"v":7},{"s":"Co","d":"u","e":2.13,"v":12},{"s":"Co","d":"u","e":2.26,"v":6},{"s":"Co","d":"u","e":2.87,"v":6},{"s":"Co","d":"u","e":3.48,"v":5},{"s":"Co","d":"u","e":4.35,"v":2},{"s":"Co","d":"u","e":5.65,"v":2},{"s":"Co","d":"u","e":6.96,"v":1},{"s":"Co","d":"u","e":7.39,"v":0},{"s":"Co","d":"u","e":8.0,"v":0},
{"s":"Co","d":"d","e":-7.0,"v":0},{"s":"Co","d":"d","e":-6.27,"v":0},{"s":"Co","d":"d","e":-5.49,"v":-3},{"s":"Co","d":"d","e":-5.28,"v":-13},{"s":"Co","d":"d","e":-5.15,"v":-4},{"s":"Co","d":"d","e":-3.94,"v":-6},{"s":"Co","d":"d","e":-3.59,"v":-9},{"s":"Co","d":"d","e":-3.42,"v":-6},{"s":"Co","d":"d","e":-2.73,"v":-3},{"s":"Co","d":"d","e":-2.39,"v":-19},{"s":"Co","d":"d","e":-2.3,"v":-29},{"s":"Co","d":"d","e":-2.17,"v":-26},{"s":"Co","d":"d","e":-2.04,"v":-36},{"s":"Co","d":"d","e":-1.96,"v":-149},{"s":"Co","d":"d","e":-1.91,"v":-59},{"s":"Co","d":"d","e":-1.78,"v":-36},{"s":"Co","d":"d","e":-1.7,"v":-39},{"s":"Co","d":"d","e":-1.59,"v":-56},{"s":"Co","d":"d","e":-1.53,"v":-46},{"s":"Co","d":"d","e":-1.27,"v":-43},{"s":"Co","d":"d","e":-1.14,"v":-76},{"s":"Co","d":"d","e":-1.05,"v":-133},{"s":"Co","d":"d","e":-0.97,"v":-93},{"s":"Co","d":"d","e":-0.84,"v":-73},{"s":"Co","d":"d","e":-0.75,"v":-63},{"s":"Co","d":"d","e":-0.67,"v":-46},{"s":"Co","d":"d","e":-0.65,"v":-133},{"s":"Co","d":"d","e":-0.58,"v":-16},{"s":"Co","d":"d","e":-0.41,"v":-3},{"s":"Co","d":"d","e":0.0,"v":-1},{"s":"Co","d":"d","e":0.13,"v":-9},{"s":"Co","d":"d","e":0.33,"v":-133},{"s":"Co","d":"d","e":0.43,"v":-59},{"s":"Co","d":"d","e":0.57,"v":-29},{"s":"Co","d":"d","e":0.7,"v":-43},{"s":"Co","d":"d","e":0.78,"v":-29},{"s":"Co","d":"d","e":1.0,"v":-9},{"s":"Co","d":"d","e":1.74,"v":-6},{"s":"Co","d":"d","e":2.07,"v":-13},{"s":"Co","d":"d","e":2.17,"v":-8},{"s":"Co","d":"d","e":2.3,"v":-11},{"s":"Co","d":"d","e":2.61,"v":-8},{"s":"Co","d":"d","e":3.48,"v":-6},{"s":"Co","d":"d","e":4.35,"v":-4},{"s":"Co","d":"d","e":6.09,"v":-3},{"s":"Co","d":"d","e":7.39,"v":0},{"s":"Co","d":"d","e":8.0,"v":0},
{"s":"Zr","d":"u","e":-7.0,"v":0},{"s":"Zr","d":"u","e":-6.27,"v":0},{"s":"Zr","d":"u","e":-5.49,"v":2},{"s":"Zr","d":"u","e":-5.15,"v":1},{"s":"Zr","d":"u","e":-4.03,"v":2},{"s":"Zr","d":"u","e":-2.95,"v":12},{"s":"Zr","d":"u","e":-2.86,"v":4},{"s":"Zr","d":"u","e":-2.56,"v":6},{"s":"Zr","d":"u","e":-2.22,"v":6},{"s":"Zr","d":"u","e":-1.96,"v":3},{"s":"Zr","d":"u","e":-1.7,"v":3},{"s":"Zr","d":"u","e":-1.35,"v":1},{"s":"Zr","d":"u","e":-0.32,"v":4},{"s":"Zr","d":"u","e":0.0,"v":2},{"s":"Zr","d":"u","e":1.0,"v":4},{"s":"Zr","d":"u","e":1.61,"v":11},{"s":"Zr","d":"u","e":1.74,"v":24},{"s":"Zr","d":"u","e":1.96,"v":21},{"s":"Zr","d":"u","e":2.04,"v":14},{"s":"Zr","d":"u","e":2.13,"v":27},{"s":"Zr","d":"u","e":2.26,"v":14},{"s":"Zr","d":"u","e":2.61,"v":12},{"s":"Zr","d":"u","e":2.87,"v":17},{"s":"Zr","d":"u","e":3.39,"v":17},{"s":"Zr","d":"u","e":3.52,"v":7},{"s":"Zr","d":"u","e":4.35,"v":4},{"s":"Zr","d":"u","e":5.65,"v":3},{"s":"Zr","d":"u","e":6.96,"v":1},{"s":"Zr","d":"u","e":7.39,"v":0},{"s":"Zr","d":"u","e":8.0,"v":0},
{"s":"Zr","d":"d","e":-7.0,"v":0},{"s":"Zr","d":"d","e":-6.27,"v":0},{"s":"Zr","d":"d","e":-5.49,"v":-2},{"s":"Zr","d":"d","e":-5.15,"v":-6},{"s":"Zr","d":"d","e":-4.11,"v":-3},{"s":"Zr","d":"d","e":-3.42,"v":-3},{"s":"Zr","d":"d","e":-2.47,"v":-6},{"s":"Zr","d":"d","e":-2.13,"v":-9},{"s":"Zr","d":"d","e":-2.0,"v":-24},{"s":"Zr","d":"d","e":-1.91,"v":-9},{"s":"Zr","d":"d","e":-1.7,"v":-8},{"s":"Zr","d":"d","e":-1.35,"v":-3},{"s":"Zr","d":"d","e":0.0,"v":-1},{"s":"Zr","d":"d","e":1.0,"v":-3},{"s":"Zr","d":"d","e":1.74,"v":-9},{"s":"Zr","d":"d","e":2.07,"v":-29},{"s":"Zr","d":"d","e":2.17,"v":-16},{"s":"Zr","d":"d","e":2.3,"v":-43},{"s":"Zr","d":"d","e":2.39,"v":-16},{"s":"Zr","d":"d","e":2.87,"v":-14},{"s":"Zr","d":"d","e":3.39,"v":-16},{"s":"Zr","d":"d","e":3.52,"v":-6},{"s":"Zr","d":"d","e":4.35,"v":-4},{"s":"Zr","d":"d","e":6.09,"v":-3},{"s":"Zr","d":"d","e":7.39,"v":0},{"s":"Zr","d":"d","e":8.0,"v":0},
{"s":"Sn","d":"u","e":-7.0,"v":0},{"s":"Sn","d":"u","e":-6.27,"v":0},{"s":"Sn","d":"u","e":-5.4,"v":3},{"s":"Sn","d":"u","e":-4.0,"v":4},{"s":"Sn","d":"u","e":-3.0,"v":5},{"s":"Sn","d":"u","e":-2.5,"v":3},{"s":"Sn","d":"u","e":-1.5,"v":2},{"s":"Sn","d":"u","e":0.0,"v":2},{"s":"Sn","d":"u","e":1.0,"v":2},{"s":"Sn","d":"u","e":2.1,"v":3},{"s":"Sn","d":"u","e":3.5,"v":3},{"s":"Sn","d":"u","e":5.0,"v":2},{"s":"Sn","d":"u","e":6.5,"v":2},{"s":"Sn","d":"u","e":7.4,"v":0},{"s":"Sn","d":"u","e":8.0,"v":0},
{"s":"Sn","d":"d","e":-7.0,"v":0},{"s":"Sn","d":"d","e":-6.27,"v":0},{"s":"Sn","d":"d","e":-5.3,"v":-4},{"s":"Sn","d":"d","e":-4.0,"v":-3},{"s":"Sn","d":"d","e":-3.5,"v":-4},{"s":"Sn","d":"d","e":-2.5,"v":-2},{"s":"Sn","d":"d","e":-1.5,"v":-2},{"s":"Sn","d":"d","e":0.0,"v":-1},{"s":"Sn","d":"d","e":1.0,"v":-2},{"s":"Sn","d":"d","e":2.2,"v":-3},{"s":"Sn","d":"d","e":3.5,"v":-3},{"s":"Sn","d":"d","e":5.0,"v":-2},{"s":"Sn","d":"d","e":6.5,"v":-2},{"s":"Sn","d":"d","e":7.4,"v":0},{"s":"Sn","d":"d","e":8.0,"v":0}
],
"d": [
{"s":"Total","d":"u","e":-7.0,"v":0},{"s":"Total","d":"u","e":-6.23,"v":0},{"s":"Total","d":"u","e":-5.67,"v":6},{"s":"Total","d":"u","e":-5.5,"v":22},{"s":"Total","d":"u","e":-5.43,"v":36},{"s":"Total","d":"u","e":-5.32,"v":19},{"s":"Total","d":"u","e":-5.15,"v":7},{"s":"Total","d":"u","e":-5.02,"v":6},{"s":"Total","d":"u","e":-4.81,"v":9},{"s":"Total","d":"u","e":-4.11,"v":14},{"s":"Total","d":"u","e":-4.04,"v":37},{"s":"Total","d":"u","e":-3.94,"v":27},{"s":"Total","d":"u","e":-3.68,"v":34},{"s":"Total","d":"u","e":-3.55,"v":24},{"s":"Total","d":"u","e":-3.25,"v":16},{"s":"Total","d":"u","e":-3.07,"v":11},{"s":"Total","d":"u","e":-2.99,"v":26},{"s":"Total","d":"u","e":-2.9,"v":134},{"s":"Total","d":"u","e":-2.83,"v":72},{"s":"Total","d":"u","e":-2.73,"v":82},{"s":"Total","d":"u","e":-2.66,"v":89},{"s":"Total","d":"u","e":-2.6,"v":66},{"s":"Total","d":"u","e":-2.56,"v":42},{"s":"Total","d":"u","e":-2.49,"v":91},{"s":"Total","d":"u","e":-2.43,"v":52},{"s":"Total","d":"u","e":-2.34,"v":32},{"s":"Total","d":"u","e":-2.3,"v":49},{"s":"Total","d":"u","e":-2.21,"v":79},{"s":"Total","d":"u","e":-2.13,"v":89},{"s":"Total","d":"u","e":-2.06,"v":79},{"s":"Total","d":"u","e":-1.95,"v":86},{"s":"Total","d":"u","e":-1.87,"v":102},{"s":"Total","d":"u","e":-1.8,"v":96},{"s":"Total","d":"u","e":-1.69,"v":82},{"s":"Total","d":"u","e":-1.61,"v":99},{"s":"Total","d":"u","e":-1.54,"v":96},{"s":"Total","d":"u","e":-1.48,"v":62},{"s":"Total","d":"u","e":-1.39,"v":19},{"s":"Total","d":"u","e":-1.26,"v":9},{"s":"Total","d":"u","e":-1.09,"v":17},{"s":"Total","d":"u","e":-0.96,"v":61},{"s":"Total","d":"u","e":-0.87,"v":32},{"s":"Total","d":"u","e":-0.66,"v":21},{"s":"Total","d":"u","e":-0.35,"v":26},{"s":"Total","d":"u","e":-0.18,"v":19},{"s":"Total","d":"u","e":0.0,"v":10},{"s":"Total","d":"u","e":0.04,"v":7},{"s":"Total","d":"u","e":0.91,"v":9},{"s":"Total","d":"u","e":1.08,"v":12},{"s":"Total","d":"u","e":1.6,"v":17},{"s":"Total","d":"u","e":1.76,"v":43},{"s":"Total","d":"u","e":1.86,"v":39},{"s":"Total","d":"u","e":1.99,"v":29},{"s":"Total","d":"u","e":2.08,"v":36},{"s":"Total","d":"u","e":2.14,"v":56},{"s":"Total","d":"u","e":2.21,"v":36},{"s":"Total","d":"u","e":2.34,"v":17},{"s":"Total","d":"u","e":2.47,"v":22},{"s":"Total","d":"u","e":2.64,"v":17},{"s":"Total","d":"u","e":2.9,"v":27},{"s":"Total","d":"u","e":3.16,"v":29},{"s":"Total","d":"u","e":3.42,"v":27},{"s":"Total","d":"u","e":3.5,"v":16},{"s":"Total","d":"u","e":3.76,"v":12},{"s":"Total","d":"u","e":4.2,"v":14},{"s":"Total","d":"u","e":4.63,"v":12},{"s":"Total","d":"u","e":5.23,"v":12},{"s":"Total","d":"u","e":5.45,"v":4},{"s":"Total","d":"u","e":5.67,"v":11},{"s":"Total","d":"u","e":6.1,"v":11},{"s":"Total","d":"u","e":6.53,"v":12},{"s":"Total","d":"u","e":6.79,"v":7},{"s":"Total","d":"u","e":7.14,"v":1},{"s":"Total","d":"u","e":7.66,"v":0},{"s":"Total","d":"u","e":8.0,"v":0},
{"s":"Total","d":"d","e":-7.0,"v":0},{"s":"Total","d":"d","e":-6.23,"v":0},{"s":"Total","d":"d","e":-5.67,"v":-4},{"s":"Total","d":"d","e":-5.41,"v":-11},{"s":"Total","d":"d","e":-5.28,"v":-38},{"s":"Total","d":"d","e":-5.19,"v":-8},{"s":"Total","d":"d","e":-4.98,"v":-6},{"s":"Total","d":"d","e":-4.11,"v":-11},{"s":"Total","d":"d","e":-3.77,"v":-14},{"s":"Total","d":"d","e":-3.6,"v":-24},{"s":"Total","d":"d","e":-3.51,"v":-39},{"s":"Total","d":"d","e":-3.38,"v":-24},{"s":"Total","d":"d","e":-3.07,"v":-6},{"s":"Total","d":"d","e":-2.64,"v":-1},{"s":"Total","d":"d","e":-2.39,"v":-31},{"s":"Total","d":"d","e":-2.21,"v":-38},{"s":"Total","d":"d","e":-2.06,"v":-78},{"s":"Total","d":"d","e":-1.97,"v":-171},{"s":"Total","d":"d","e":-1.91,"v":-84},{"s":"Total","d":"d","e":-1.82,"v":-88},{"s":"Total","d":"d","e":-1.78,"v":-51},{"s":"Total","d":"d","e":-1.69,"v":-24},{"s":"Total","d":"d","e":-1.61,"v":-51},{"s":"Total","d":"d","e":-1.43,"v":-54},{"s":"Total","d":"d","e":-1.26,"v":-58},{"s":"Total","d":"d","e":-1.18,"v":-84},{"s":"Total","d":"d","e":-1.07,"v":-124},{"s":"Total","d":"d","e":-0.96,"v":-91},{"s":"Total","d":"d","e":-0.83,"v":-84},{"s":"Total","d":"d","e":-0.67,"v":-71},{"s":"Total","d":"d","e":-0.65,"v":-4},{"s":"Total","d":"d","e":-0.48,"v":-2},{"s":"Total","d":"d","e":0.0,"v":-1},{"s":"Total","d":"d","e":0.13,"v":-18},{"s":"Total","d":"d","e":0.3,"v":-114},{"s":"Total","d":"d","e":0.43,"v":-51},{"s":"Total","d":"d","e":0.52,"v":-28},{"s":"Total","d":"d","e":0.66,"v":-41},{"s":"Total","d":"d","e":0.74,"v":-28},{"s":"Total","d":"d","e":1.0,"v":-14},{"s":"Total","d":"d","e":1.34,"v":-13},{"s":"Total","d":"d","e":1.77,"v":-18},{"s":"Total","d":"d","e":1.99,"v":-31},{"s":"Total","d":"d","e":2.1,"v":-59},{"s":"Total","d":"d","e":2.21,"v":-28},{"s":"Total","d":"d","e":2.31,"v":-59},{"s":"Total","d":"d","e":2.42,"v":-24},{"s":"Total","d":"d","e":2.64,"v":-21},{"s":"Total","d":"d","e":2.98,"v":-24},{"s":"Total","d":"d","e":3.24,"v":-28},{"s":"Total","d":"d","e":3.37,"v":-38},{"s":"Total","d":"d","e":3.46,"v":-21},{"s":"Total","d":"d","e":3.76,"v":-14},{"s":"Total","d":"d","e":4.37,"v":-16},{"s":"Total","d":"d","e":4.89,"v":-11},{"s":"Total","d":"d","e":5.41,"v":-6},{"s":"Total","d":"d","e":5.67,"v":-9},{"s":"Total","d":"d","e":6.1,"v":-11},{"s":"Total","d":"d","e":6.62,"v":-9},{"s":"Total","d":"d","e":6.96,"v":-8},{"s":"Total","d":"d","e":7.22,"v":-1},{"s":"Total","d":"d","e":7.66,"v":0},{"s":"Total","d":"d","e":8.0,"v":0},
{"s":"Co","d":"u","e":-7.0,"v":0},{"s":"Co","d":"u","e":-6.23,"v":0},{"s":"Co","d":"u","e":-5.5,"v":9},{"s":"Co","d":"u","e":-5.41,"v":12},{"s":"Co","d":"u","e":-5.28,"v":4},{"s":"Co","d":"u","e":-4.11,"v":6},{"s":"Co","d":"u","e":-4.03,"v":14},{"s":"Co","d":"u","e":-3.6,"v":12},{"s":"Co","d":"u","e":-3.07,"v":7},{"s":"Co","d":"u","e":-2.92,"v":96},{"s":"Co","d":"u","e":-2.83,"v":66},{"s":"Co","d":"u","e":-2.73,"v":66},{"s":"Co","d":"u","e":-2.66,"v":82},{"s":"Co","d":"u","e":-2.6,"v":59},{"s":"Co","d":"u","e":-2.54,"v":36},{"s":"Co","d":"u","e":-2.49,"v":76},{"s":"Co","d":"u","e":-2.39,"v":36},{"s":"Co","d":"u","e":-2.3,"v":39},{"s":"Co","d":"u","e":-2.21,"v":72},{"s":"Co","d":"u","e":-2.11,"v":72},{"s":"Co","d":"u","e":-1.95,"v":82},{"s":"Co","d":"u","e":-1.87,"v":96},{"s":"Co","d":"u","e":-1.69,"v":82},{"s":"Co","d":"u","e":-1.61,"v":91},{"s":"Co","d":"u","e":-1.52,"v":82},{"s":"Co","d":"u","e":-1.43,"v":32},{"s":"Co","d":"u","e":-1.35,"v":9},{"s":"Co","d":"u","e":-1.09,"v":12},{"s":"Co","d":"u","e":-0.96,"v":52},{"s":"Co","d":"u","e":-0.87,"v":26},{"s":"Co","d":"u","e":-0.48,"v":16},{"s":"Co","d":"u","e":0.0,"v":7},{"s":"Co","d":"u","e":0.04,"v":6},{"s":"Co","d":"u","e":1.34,"v":4},{"s":"Co","d":"u","e":1.77,"v":9},{"s":"Co","d":"u","e":2.12,"v":12},{"s":"Co","d":"u","e":2.29,"v":6},{"s":"Co","d":"u","e":2.64,"v":6},{"s":"Co","d":"u","e":3.5,"v":5},{"s":"Co","d":"u","e":4.37,"v":2},{"s":"Co","d":"u","e":6.1,"v":2},{"s":"Co","d":"u","e":7.4,"v":0},{"s":"Co","d":"u","e":8.0,"v":0},
{"s":"Co","d":"d","e":-7.0,"v":0},{"s":"Co","d":"d","e":-6.23,"v":0},{"s":"Co","d":"d","e":-5.41,"v":-6},{"s":"Co","d":"d","e":-5.28,"v":-11},{"s":"Co","d":"d","e":-5.15,"v":-4},{"s":"Co","d":"d","e":-3.94,"v":-4},{"s":"Co","d":"d","e":-3.51,"v":-9},{"s":"Co","d":"d","e":-3.07,"v":-4},{"s":"Co","d":"d","e":-2.64,"v":-3},{"s":"Co","d":"d","e":-2.47,"v":-14},{"s":"Co","d":"d","e":-2.3,"v":-24},{"s":"Co","d":"d","e":-2.13,"v":-21},{"s":"Co","d":"d","e":-2.04,"v":-44},{"s":"Co","d":"d","e":-1.97,"v":-114},{"s":"Co","d":"d","e":-1.87,"v":-64},{"s":"Co","d":"d","e":-1.74,"v":-24},{"s":"Co","d":"d","e":-1.61,"v":-31},{"s":"Co","d":"d","e":-1.43,"v":-38},{"s":"Co","d":"d","e":-1.26,"v":-44},{"s":"Co","d":"d","e":-1.13,"v":-81},{"s":"Co","d":"d","e":-1.07,"v":-111},{"s":"Co","d":"d","e":-0.96,"v":-84},{"s":"Co","d":"d","e":-0.79,"v":-64},{"s":"Co","d":"d","e":-0.67,"v":-71},{"s":"Co","d":"d","e":-0.64,"v":-4},{"s":"Co","d":"d","e":-0.48,"v":-2},{"s":"Co","d":"d","e":0.0,"v":-1},{"s":"Co","d":"d","e":0.13,"v":-18},{"s":"Co","d":"d","e":0.3,"v":-114},{"s":"Co","d":"d","e":0.43,"v":-51},{"s":"Co","d":"d","e":0.52,"v":-29},{"s":"Co","d":"d","e":0.66,"v":-41},{"s":"Co","d":"d","e":0.74,"v":-28},{"s":"Co","d":"d","e":1.0,"v":-9},{"s":"Co","d":"d","e":1.77,"v":-6},{"s":"Co","d":"d","e":2.03,"v":-13},{"s":"Co","d":"d","e":2.16,"v":-8},{"s":"Co","d":"d","e":2.31,"v":-11},{"s":"Co","d":"d","e":2.64,"v":-6},{"s":"Co","d":"d","e":3.5,"v":-4},{"s":"Co","d":"d","e":5.23,"v":-3},{"s":"Co","d":"d","e":7.4,"v":0},{"s":"Co","d":"d","e":8.0,"v":0},
{"s":"Zr","d":"u","e":-7.0,"v":0},{"s":"Zr","d":"u","e":-6.23,"v":0},{"s":"Zr","d":"u","e":-5.41,"v":2},{"s":"Zr","d":"u","e":-4.03,"v":2},{"s":"Zr","d":"u","e":-2.9,"v":11},{"s":"Zr","d":"u","e":-2.73,"v":2},{"s":"Zr","d":"u","e":-2.56,"v":6},{"s":"Zr","d":"u","e":-2.21,"v":6},{"s":"Zr","d":"u","e":-1.69,"v":2},{"s":"Zr","d":"u","e":-0.48,"v":3},{"s":"Zr","d":"u","e":0.0,"v":2},{"s":"Zr","d":"u","e":0.91,"v":4},{"s":"Zr","d":"u","e":1.6,"v":12},{"s":"Zr","d":"u","e":1.77,"v":22},{"s":"Zr","d":"u","e":1.99,"v":17},{"s":"Zr","d":"u","e":2.14,"v":26},{"s":"Zr","d":"u","e":2.29,"v":14},{"s":"Zr","d":"u","e":2.64,"v":12},{"s":"Zr","d":"u","e":2.9,"v":16},{"s":"Zr","d":"u","e":3.42,"v":16},{"s":"Zr","d":"u","e":3.5,"v":6},{"s":"Zr","d":"u","e":4.37,"v":4},{"s":"Zr","d":"u","e":6.1,"v":2},{"s":"Zr","d":"u","e":7.4,"v":0},{"s":"Zr","d":"u","e":8.0,"v":0},
{"s":"Zr","d":"d","e":-7.0,"v":0},{"s":"Zr","d":"d","e":-6.23,"v":0},{"s":"Zr","d":"d","e":-5.41,"v":-3},{"s":"Zr","d":"d","e":-5.15,"v":-4},{"s":"Zr","d":"d","e":-3.94,"v":-3},{"s":"Zr","d":"d","e":-2.64,"v":-4},{"s":"Zr","d":"d","e":-2.13,"v":-8},{"s":"Zr","d":"d","e":-1.95,"v":-21},{"s":"Zr","d":"d","e":-1.87,"v":-9},{"s":"Zr","d":"d","e":-1.69,"v":-6},{"s":"Zr","d":"d","e":-1.61,"v":-11},{"s":"Zr","d":"d","e":-1.43,"v":-4},{"s":"Zr","d":"d","e":0.0,"v":-1},{"s":"Zr","d":"d","e":0.91,"v":-4},{"s":"Zr","d":"d","e":1.77,"v":-9},{"s":"Zr","d":"d","e":2.1,"v":-24},{"s":"Zr","d":"d","e":2.21,"v":-14},{"s":"Zr","d":"d","e":2.31,"v":-31},{"s":"Zr","d":"d","e":2.42,"v":-14},{"s":"Zr","d":"d","e":2.9,"v":-13},{"s":"Zr","d":"d","e":3.37,"v":-14},{"s":"Zr","d":"d","e":3.46,"v":-6},{"s":"Zr","d":"d","e":4.37,"v":-4},{"s":"Zr","d":"d","e":6.1,"v":-3},{"s":"Zr","d":"d","e":7.4,"v":0},{"s":"Zr","d":"d","e":8.0,"v":0},
{"s":"Sn","d":"u","e":-7.0,"v":0},{"s":"Sn","d":"u","e":-6.23,"v":0},{"s":"Sn","d":"u","e":-5.4,"v":3},{"s":"Sn","d":"u","e":-4.0,"v":4},{"s":"Sn","d":"u","e":-3.0,"v":4},{"s":"Sn","d":"u","e":-2.5,"v":3},{"s":"Sn","d":"u","e":-1.5,"v":2},{"s":"Sn","d":"u","e":0.0,"v":2},{"s":"Sn","d":"u","e":1.0,"v":2},{"s":"Sn","d":"u","e":2.1,"v":3},{"s":"Sn","d":"u","e":3.5,"v":3},{"s":"Sn","d":"u","e":5.0,"v":2},{"s":"Sn","d":"u","e":6.5,"v":2},{"s":"Sn","d":"u","e":7.4,"v":0},{"s":"Sn","d":"u","e":8.0,"v":0},
{"s":"Sn","d":"d","e":-7.0,"v":0},{"s":"Sn","d":"d","e":-6.23,"v":0},{"s":"Sn","d":"d","e":-5.3,"v":-4},{"s":"Sn","d":"d","e":-4.0,"v":-3},{"s":"Sn","d":"d","e":-3.5,"v":-4},{"s":"Sn","d":"d","e":-2.5,"v":-2},{"s":"Sn","d":"d","e":-1.5,"v":-2},{"s":"Sn","d":"d","e":0.0,"v":-1},{"s":"Sn","d":"d","e":1.0,"v":-2},{"s":"Sn","d":"d","e":2.2,"v":-3},{"s":"Sn","d":"d","e":3.5,"v":-3},{"s":"Sn","d":"d","e":5.0,"v":-2},{"s":"Sn","d":"d","e":6.5,"v":-2},{"s":"Sn","d":"d","e":7.4,"v":0},{"s":"Sn","d":"d","e":8.0,"v":0}
]
},
"columns": 2,
"spacing": {"row": 78, "column": 42},
"bounds": "flush",
"resolve": {"scale": {"color": "independent", "x": "independent", "y": "independent"}, "legend": {"color": "independent"}},
"concat": [
 {"width": 579, "height": 319, "view": {"stroke": "#1a1a1a"},
  "layer": [
   {"data": {"values": [{}]}, "mark": {"type": "rule", "color": "#1a1a1a", "strokeWidth": 1.5}, "encoding": {"x": {"datum": 0}}},
   {"data": {"name": "a"}, "mark": {"type": "line", "strokeWidth": 1.6},
    "encoding": {
     "x": {"field": "e", "type": "quantitative", "scale": {"domain": [-7, 8], "nice": false, "zero": false}, "axis": {"title": "Energy (eV)"}},
     "y": {"field": "v", "type": "quantitative", "scale": {"domain": [-178, 141], "nice": false}, "axis": {"title": "States (A.U.)"}},
     "color": {"field": "s", "type": "nominal", "scale": {"domain": ["Total", "Co", "Hf", "Sn"], "range": ["#000000", "#C00000", "#70AD47", "#BF9000"]}, "legend": {"orient": "none", "legendX": 406, "legendY": 242}},
     "detail": {"field": "d"}}},
   {"data": {"values": [{}]}, "mark": {"type": "text", "align": "right", "baseline": "alphabetic", "fontSize": 21, "color": "#1a1a1a"}, "encoding": {"x": {"datum": 7.88}, "y": {"datum": -96}, "text": {"value": "a) Co₂HfSn (exp) - PBE"}}}
  ]},
 {"width": 577, "height": 319, "view": {"stroke": "#595959"},
  "layer": [
   {"data": {"values": [{}]}, "mark": {"type": "rule", "color": "#666666", "strokeWidth": 1.2}, "encoding": {"x": {"datum": 0}}},
   {"data": {"name": "b"}, "mark": {"type": "line", "strokeWidth": 1.6},
    "encoding": {
     "x": {"field": "e", "type": "quantitative", "scale": {"domain": [-7, 8], "nice": false, "zero": false}, "axis": {"title": "Energy (eV)"}},
     "y": {"field": "v", "type": "quantitative", "scale": {"domain": [-193, 126], "nice": false}, "axis": {"title": "States (A.U.)"}},
     "color": {"field": "s", "type": "nominal", "scale": {"domain": ["Total", "Co", "Hf", "Sn"], "range": ["#000000", "#C00000", "#70AD47", "#BF9000"]}, "legend": null},
     "detail": {"field": "d"}}},
   {"data": {"values": [{}]}, "mark": {"type": "text", "align": "right", "baseline": "alphabetic", "fontSize": 21, "color": "#1a1a1a"}, "encoding": {"x": {"datum": 7.79}, "y": {"datum": -115}, "text": {"value": "b) Co₂HfSn (exp) - PBEsol"}}}
  ]},
 {"width": 579, "height": 320, "view": {"stroke": "#1a1a1a"},
  "layer": [
   {"data": {"values": [{}]}, "mark": {"type": "rule", "color": "#1a1a1a", "strokeWidth": 1.5}, "encoding": {"x": {"datum": 0}}},
   {"data": {"name": "c"}, "mark": {"type": "line", "strokeWidth": 1.6},
    "encoding": {
     "x": {"field": "e", "type": "quantitative", "scale": {"domain": [-7, 8], "nice": false, "zero": false}, "axis": {"title": "Energy (eV)"}},
     "y": {"field": "v", "type": "quantitative", "scale": {"domain": [-170, 150], "nice": false}, "axis": {"title": "States (A.U.)"}},
     "color": {"field": "s", "type": "nominal", "scale": {"domain": ["Total", "Co", "Zr", "Sn"], "range": ["#000000", "#C00000", "#5B8BD0", "#BF9000"]}, "legend": {"orient": "none", "legendX": 406, "legendY": 250}},
     "detail": {"field": "d"}}},
   {"data": {"values": [{}]}, "mark": {"type": "text", "align": "right", "baseline": "alphabetic", "fontSize": 21, "color": "#1a1a1a"}, "encoding": {"x": {"datum": 7.69}, "y": {"datum": -100}, "text": {"value": "c) Co₂ZrSn (exp) - PBE"}}}
  ]},
 {"width": 577, "height": 320, "view": {"stroke": "#595959"},
  "layer": [
   {"data": {"values": [{}]}, "mark": {"type": "rule", "color": "#666666", "strokeWidth": 1.2}, "encoding": {"x": {"datum": 0}}},
   {"data": {"name": "d"}, "mark": {"type": "line", "strokeWidth": 1.6},
    "encoding": {
     "x": {"field": "e", "type": "quantitative", "scale": {"domain": [-7, 8], "nice": false, "zero": false}, "axis": {"title": "Energy (eV)"}},
     "y": {"field": "v", "type": "quantitative", "scale": {"domain": [-178, 142], "nice": false}, "axis": {"title": "States (A.U.)"}},
     "color": {"field": "s", "type": "nominal", "scale": {"domain": ["Total", "Co", "Zr", "Sn"], "range": ["#000000", "#C00000", "#5B8BD0", "#BF9000"]}, "legend": null},
     "detail": {"field": "d"}}},
   {"data": {"values": [{}]}, "mark": {"type": "text", "align": "right", "baseline": "alphabetic", "fontSize": 21, "color": "#1a1a1a"}, "encoding": {"x": {"datum": 7.79}, "y": {"datum": -101}, "text": {"value": "d) Co₂ZrSn (exp) - PBEsol"}}}
  ]}
]
}
